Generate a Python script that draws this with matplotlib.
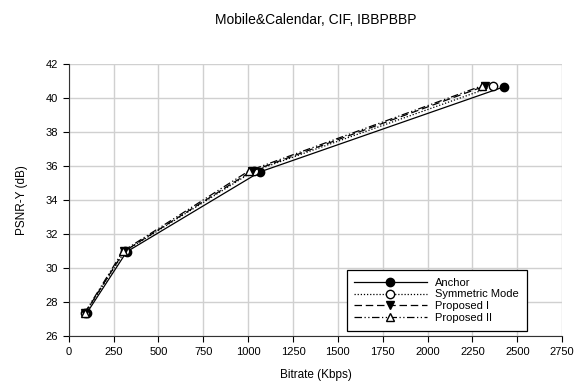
import matplotlib
matplotlib.use("Agg")
import matplotlib.pyplot as plt

plt.rcParams['font.family'] = ['Liberation Sans', 'DejaVu Sans']

# bitrate (Kbps) / PSNR-Y (dB)
anchor_x = [100, 322, 1065, 2425]
anchor_y = [27.35, 30.95, 35.65, 40.65]
sym_x = [92, 312, 1030, 2365]
sym_y = [27.35, 30.98, 35.7, 40.68]
prop1_x = [90, 308, 1020, 2320]
prop1_y = [27.35, 30.98, 35.7, 40.7]
prop2_x = [88, 302, 1005, 2305]
prop2_y = [27.35, 31.0, 35.72, 40.72]

fig = plt.figure(figsize=(5.88, 3.85), dpi=100)
ax = fig.add_axes([0.117, 0.127, 0.839, 0.707])

ms = 6
ax.plot(anchor_x, anchor_y, color='black', linestyle='-', lw=0.9,
        marker='o', markersize=ms, markerfacecolor='black', label='Anchor')
ax.plot(sym_x, sym_y, color='black', linestyle=(0, (1, 1.5)), lw=0.9,
        marker='o', markersize=ms, markerfacecolor='white', label='Symmetric Mode')
ax.plot(prop1_x, prop1_y, color='black', linestyle=(0, (6, 3)), lw=0.9,
        marker='v', markersize=ms, markerfacecolor='black', label='Proposed I')
ax.plot(prop2_x, prop2_y, color='black', linestyle=(0, (6, 2, 1, 2, 1, 2)), lw=0.9,
        marker='^', markersize=ms, markerfacecolor='white', label='Proposed II')

ax.set_xlim(0, 2750)
ax.set_ylim(26, 42)
ax.set_xticks(range(0, 2751, 250))
ax.set_yticks(range(26, 43, 2))
ax.tick_params(labelsize=8, direction='out', length=4, width=0.8)
ax.grid(True, color='#d0d0d0', lw=1)
ax.set_axisbelow(True)
for s in ['top', 'right']:
    ax.spines[s].set_visible(False)
for s in ['left', 'bottom']:
    ax.spines[s].set_color('#333333')

ax.set_xlabel('Bitrate (Kbps)', fontsize=8.5, labelpad=9)
ax.set_ylabel('PSNR-Y (dB)', fontsize=8.5, labelpad=13)
ax.set_title('Mobile&Calendar, CIF, IBBPBBP', fontsize=10, pad=29)

leg = ax.legend(loc='lower right', fontsize=8, handlelength=6.5, fancybox=False,
                framealpha=1, edgecolor='black', borderpad=0.7, labelspacing=0.15,
                bbox_to_anchor=(0.94, 0.0))
leg.get_frame().set_linewidth(0.9)

fig.savefig('out.png', dpi=100)
